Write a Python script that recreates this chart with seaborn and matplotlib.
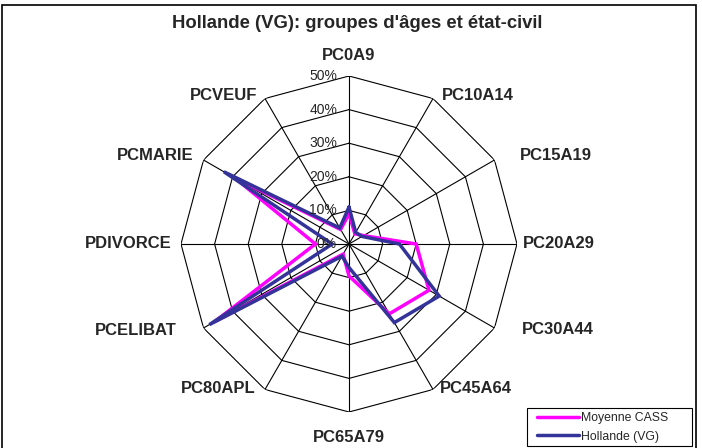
import numpy as np
import pandas as pd
import seaborn as sns
import matplotlib.pyplot as plt
from matplotlib.lines import Line2D
from matplotlib.patches import Rectangle

# ---------- DATA ----------
categories = ["PC0A9", "PC10A14", "PC15A19", "PC20A29", "PC30A44", "PC45A64",
              "PC65A79", "PC80APL", "PCELIBAT", "PDIVORCE", "PCMARIE", "PCVEUF"]
moyenne_cass = [9, 3.5, 5, 20, 27.5, 24, 9.5, 3.5, 46, 10, 39, 5]
hollande_vg = [11, 4, 4.5, 15, 31, 27, 7, 4.2, 48, 5, 43, 5.5]
series_names = ["Moyenne CASS", "Hollande (VG)"]
ring_ticks = [0, 10, 20, 30, 40, 50]
ring_labels = ["0%", "10%", "20%", "30%", "40%", "50%"]
title = "Hollande (VG): groupes d'âges et état-civil"

colors = ["#FF00FF", "#333399"]

# label offsets in pixels (dx, dy) from the outer ring vertex
label_offsets = [(0, 21), (9, 3), (25, 5), (6, 1), (27, -2), (7, 1),
                 (0, -25), (-9, 1), (-27, -2), (-9, 1), (-10, 5), (-8, 3)]

# ---------- BUILD TABLE ----------
n = len(categories)
angles = np.linspace(0, 2 * np.pi, n, endpoint=False)
closed = np.append(angles, 2 * np.pi)

rows = []
for name, vals in zip(series_names, [moyenne_cass, hollande_vg]):
    for a, v in zip(closed, list(vals) + [vals[0]]):
        rows.append({"theta": a, "value": v, "series": name})
df = pd.DataFrame(rows)

# ---------- PLOT ----------
sns.set_style("white")
plt.rcParams["font.family"] = ["Liberation Sans", "DejaVu Sans"]

W, H = 702, 448
fig = plt.figure(figsize=(W / 100, H / 100), dpi=100)
cx, cy, R = 349, 244, 168
ax = fig.add_axes([(cx - R) / W, (H - cy - R) / H, 2 * R / W, 2 * R / H], projection="polar")
ax.set_theta_zero_location("N")
ax.set_theta_direction(-1)
rmax = ring_ticks[-1]

# polygon grid
for r in ring_ticks[1:]:
    ax.plot(closed, [r] * (n + 1), color="black", lw=0.8, zorder=1)
for a in angles:
    ax.plot([a, a], [0, rmax], color="black", lw=0.8, zorder=1)

sns.lineplot(data=df, x="theta", y="value", hue="series", hue_order=series_names,
             palette=colors, lw=2.5, ax=ax, legend=False, sort=False,
             estimator=None, solid_joinstyle="miter", clip_on=False, zorder=3)

ax.set_ylim(0, rmax)
ax.set_xticks([])
ax.set_yticks([])
ax.grid(False)
ax.spines["polar"].set_visible(False)
ax.set_xlabel("")
ax.set_ylabel("")
ax.patch.set_alpha(0)

for a, cat, (dx, dy) in zip(angles, categories, label_offsets):
    ha = "center" if dx == 0 else ("left" if dx > 0 else "right")
    ax.annotate(cat, xy=(a, rmax), xytext=(dx, dy), textcoords="offset pixels",
                ha=ha, va="center", fontsize=12, fontweight="bold", annotation_clip=False)

for r, lbl in zip(ring_ticks, ring_labels):
    ax.annotate(lbl, xy=(0, r), xytext=(-12, 0), textcoords="offset pixels",
                ha="right", va="center", fontsize=10, annotation_clip=False)

fig.text(357 / W, 1 - 23 / H, title, ha="center", va="center",
         fontsize=13.3, fontweight="bold")

# legend: frame drawn separately, entries placed inside it
fig.patches.append(Rectangle((527 / W, (H - 446) / H), (692 - 527) / W, (446 - 408) / H,
                             transform=fig.transFigure, fill=False,
                             edgecolor="black", lw=0.8))
handles = [Line2D([], [], color=c, lw=2.5) for c in colors]
leg = fig.legend(handles, series_names, loc="upper left",
                 bbox_to_anchor=(537 / W, 1 - 412 / H), frameon=False,
                 fontsize=8.8, handlelength=3.4, handletextpad=0.2, borderpad=0,
                 labelspacing=0.55, borderaxespad=0)

fig.patches.append(Rectangle((2 / W, -0.01), (696 - 2) / W, (H - 5) / H + 0.01,
                             transform=fig.transFigure, fill=False,
                             edgecolor="black", lw=1.2))

fig.savefig("out.png", dpi=100)
